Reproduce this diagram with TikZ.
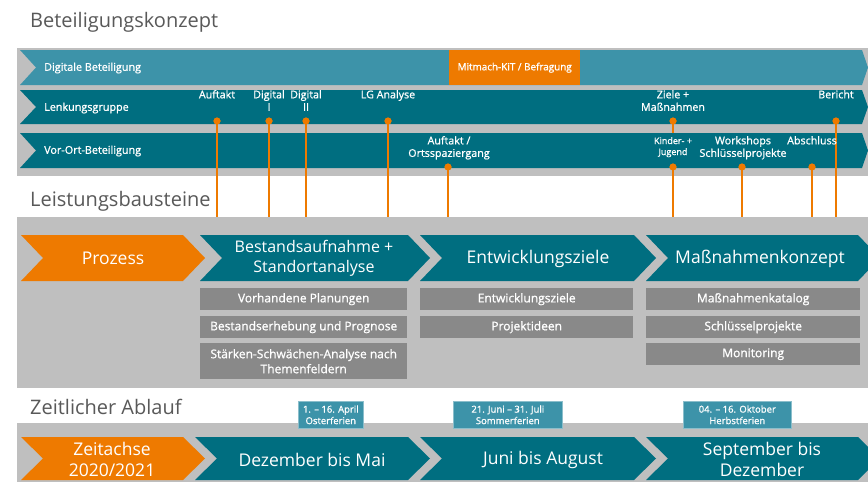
\documentclass[tikz,border=0pt]{standalone}
\usepackage{fontspec}
\setmainfont{Open Sans}
\newfontfamily\sbf[FakeBold=1]{Open Sans}
\definecolor{dteal}{HTML}{006E80}
\definecolor{lteal}{HTML}{3D93A9}
\definecolor{orng}{HTML}{EE7A00}
\definecolor{panel}{HTML}{BFBFBF}
\definecolor{subbox}{HTML}{898989}
\definecolor{ttl}{HTML}{595959}
\newcommand\mychev[7]{\fill[#1] (#2,#4) -- (#3,#4) -- ({#3+#7},{(#4+#5)/2}) -- (#3,#5) -- (#2,#5) -- ({#2+#6},{(#4+#5)/2}) -- cycle;}
\begin{document}
\begin{tikzpicture}[x=1pt,y=-1pt,
  title/.style={text=ttl,font=\fontsize{20}{24}\selectfont,anchor=west,inner sep=0},
  rowlbl/.style={text=white,font=\sbf\fontsize{10.8}{12}\selectfont,anchor=west,inner sep=0},
  ev/.style={text=white,font=\sbf\fontsize{10.7}{12.5}\selectfont,align=center,inner sep=0},
  evs/.style={text=white,font=\sbf\fontsize{9}{11}\selectfont,align=center,inner sep=0},
  big/.style={text=white,font=\fontsize{17.5}{21}\selectfont,align=center,inner sep=0},
  sub/.style={fill=subbox,text=white,font=\sbf\fontsize{12}{15}\selectfont,align=center,inner sep=0},
  datebox/.style={fill=lteal,draw=lteal!60!white,line width=0.6pt,text=white,font=\sbf\fontsize{9.5}{11.5}\selectfont,align=center,inner sep=0},
  dot/.style={circle,fill=orng,inner sep=0,minimum size=7pt},
  oline/.style={draw=orng,line width=2.4pt}]
\useasboundingbox (0,0) rectangle (868,482);
\fill[white] (0,0) rectangle (868,482);

% ---------- Beteiligungskonzept ----------
\node[title] (t1) at (30,22) {Beteiligungskonzept};
\fill[panel] (17,48) rectangle (868,176);
\mychev{lteal}{20}{862}{50}{85}{16}{6}
\mychev{dteal}{20}{862}{90}{124}{16}{6}
% Ziele line runs under the Vor-Ort row
\coordinate (ee) at (673,140);
\node[dot] (de) at (673,121) {};
\draw[oline] (de.center) -- (ee);
\mychev{dteal}{20}{862}{133}{168}{16}{6}
\node[fill=orng,minimum width=131pt,minimum height=35pt,inner sep=0,anchor=north west,text=white,font=\sbf\fontsize{9.9}{11}\selectfont] (mk) at (449,50) {Mitmach-KiT / Befragung};
\node[rowlbl] (r1) at (44,68) {Digitale Beteiligung};
\node[rowlbl] (r2) at (44,108) {Lenkungsgruppe};
\node[rowlbl] (r3) at (44,151) {Vor-Ort-Beteiligung};

% lines
\foreach \n/\x/\y in {a/217/121,b/269/121,c/306/121,d/388/121,f/836/121,g/448/167,h/673/167,i/742/167,j/812/167}{
  \coordinate (e\n) at (\x,217);
  \node[dot] (d\n) at (\x,\y) {};
  \draw[oline] (d\n.center) -- (e\n);
  \node[dot] at (d\n.center) {};
}
\node[dot] at (de.center) {};

% labels Lenkungsgruppe
\node[ev,anchor=north] (la) at (217,90) {Auftakt};
\node[ev,anchor=north] (lb) at (269,90) {Digital\\I};
\node[ev,anchor=north] (lc) at (306,90) {Digital\\II};
\node[ev,anchor=north] (ld) at (388,90) {LG Analyse};
\node[ev,anchor=north] (le) at (673,90) {Ziele +\\Maßnahmen};
\node[ev,anchor=north] (lf) at (836,90) {Bericht};
% labels Vor-Ort
\node[ev,anchor=north] (lg) at (449,136) {Auftakt /\\Ortsspaziergang};
\node[evs,anchor=north] (lh) at (673,137) {Kinder- +\\Jugend};
\node[ev,anchor=north] (li) at (743,136) {Workshops\\Schlüsselprojekte};
\node[ev,anchor=north] (lj) at (812,136) {Abschluss};

% ---------- Leistungsbausteine ----------
\node[title] (t2) at (30,201) {Leistungsbausteine};
\fill[panel] (17,217) rectangle (868,388);
\mychev{orng}{21}{183}{235}{281}{22}{22}
\mychev{dteal}{200}{408}{235}{281}{22}{22}
\mychev{dteal}{420}{634}{235}{281}{22}{22}
\mychev{dteal}{646}{858}{235}{281}{22}{22}
\node[big] (p0) at (113,258) {Prozess};
\node[big,font=\fontsize{16}{20}\selectfont] (p1) at (314,258) {Bestandsaufnahme +\\Standortanalyse};
\node[big] (p2) at (538,259) {Entwicklungsziele};
\node[big] (p3) at (760,259) {Maßnahmenkonzept};

\node[sub,minimum width=207pt,minimum height=22pt,anchor=north west] (s1) at (200,288) {Vorhandene Planungen};
\node[sub,minimum width=207pt,minimum height=22pt,anchor=north west] (s2) at (200,316) {Bestandserhebung und Prognose};
\node[sub,minimum width=207pt,minimum height=36pt,anchor=north west] (s3) at (200,343) {Stärken-Schwächen-Analyse nach\\Themenfeldern};
\node[sub,minimum width=213pt,minimum height=22pt,anchor=north west] (s4) at (420,288) {Entwicklungsziele};
\node[sub,minimum width=213pt,minimum height=22pt,anchor=north west] (s5) at (420,316) {Projektideen};
\node[sub,minimum width=214pt,minimum height=22pt,anchor=north west] (s6) at (646,288) {Maßnahmenkatalog};
\node[sub,minimum width=214pt,minimum height=22pt,anchor=north west] (s7) at (646,316) {Schlüsselprojekte};
\node[sub,minimum width=214pt,minimum height=22pt,anchor=north west] (s8) at (646,343) {Monitoring};

% ---------- Zeitlicher Ablauf ----------
\node[title] (t3) at (30,407) {Zeitlicher Ablauf};
\fill[panel] (17,423) rectangle (868,482);
\mychev{orng}{21}{183}{437}{480}{22}{22}
\mychev{dteal}{195}{408}{437}{480}{22}{22}
\mychev{dteal}{420}{634}{437}{480}{22}{22}
\mychev{dteal}{646}{858}{437}{480}{22}{22}
\node[big] (z0) at (112,459) {Zeitachse\\2020/2021};
\node[big] (z1) at (312,460) {Dezember bis Mai};
\node[big] (z2) at (543,460) {Juni bis August};
\node[big] (z3) at (762,459) {September bis\\Dezember};

\node[datebox,minimum width=65pt,minimum height=27pt,anchor=north west] (b1) at (298,401) {1. – 16. April\\Osterferien};
\node[datebox,minimum width=109pt,minimum height=27pt,anchor=north west] (b2) at (453,401) {21. Juni – 31. Juli\\Sommerferien};
\node[datebox,minimum width=108pt,minimum height=27pt,anchor=north west] (b3) at (683,401) {04. – 16. Oktober\\Herbstferien};
\end{tikzpicture}
\end{document}
